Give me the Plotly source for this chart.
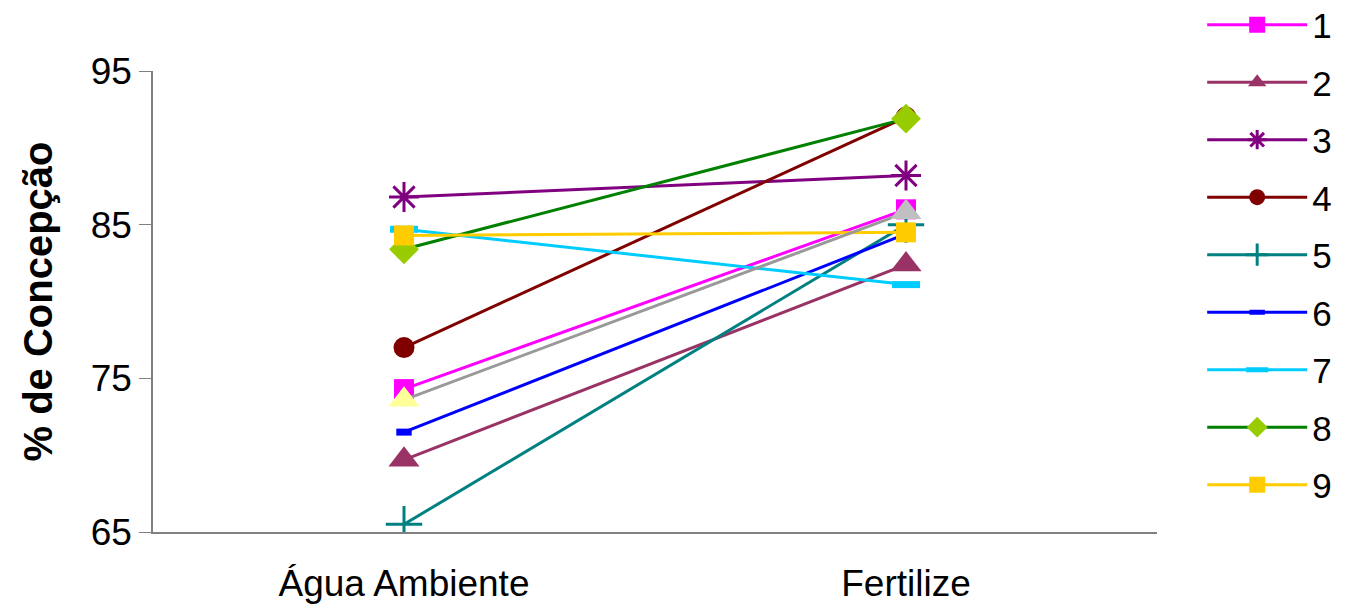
import plotly.graph_objects as go

CATEGORIES = ["Água Ambiente", "Fertilize"]
SERIES_NAMES = ["1", "2", "3", "4", "5", "6", "7", "8", "9", "10"]
VALUES = [
    [74.3, 86.0],
    [69.7, 82.4],
    [86.8, 88.2],
    [77.0, 92.0],
    [65.5, 85.0],
    [71.5, 84.4],
    [84.7, 81.1],
    [83.4, 91.9],
    [84.3, 84.5],
    [73.6, 85.8],
]
Y_TICKS = [65, 75, 85, 95]

LINE_COLORS = ["#FF00FF", "#993366", "#800080", "#800000", "#008080",
               "#0000FF", "#00CCFF", "#008000", "#FFCC00", "#999999"]
MARKER_COLORS = ["#FF00FF", "#993366", "#800080", "#800000", "#008080",
                 "#0000FF", "#00CCFF", "#99CC00", "#FFCC00", ["#FFFF99", "#C0C0C0"]]
SYMBOLS = ["square", "triangle-up", "asterisk", "circle", "cross-thin",
           "line-ew", "line-ew", "diamond", "square", "triangle-up"]
SIZES = [20, 27, 25, 21, 26, 11, 20, 23, 20, 27]

fig = go.Figure()
for i, name in enumerate(SERIES_NAMES):
    sym = SYMBOLS[i]
    if sym in ("asterisk", "cross-thin"):
        marker = dict(symbol=sym, size=SIZES[i], color=MARKER_COLORS[i],
                      line=dict(color=LINE_COLORS[i], width=3))
    elif sym == "line-ew":
        marker = dict(symbol=sym, size=SIZES[i], color=MARKER_COLORS[i],
                      line=dict(color=MARKER_COLORS[i], width=7))
    else:
        marker = dict(symbol=sym, size=SIZES[i], color=MARKER_COLORS[i], line=dict(width=0))
    fig.add_trace(go.Scatter(
        x=CATEGORIES,
        y=VALUES[i],
        name=name,
        mode="lines+markers",
        line=dict(color=LINE_COLORS[i], width=3),
        marker=marker,
        legendgroup=name,
        showlegend=(name != "10"),
    ))

fig.update_layout(
    width=1353,
    height=600,
    margin=dict(l=145, r=204, t=63, b=76, autoexpand=False),
    paper_bgcolor="white",
    plot_bgcolor="white",
    font=dict(family="Liberation Sans, Arial, sans-serif", size=37, color="black"),
    showlegend=True,
    legend=dict(
        x=1.045, xanchor="left",
        y=1.164, yanchor="top",
        font=dict(size=35),
        tracegroupgap=9,
        itemwidth=100,
        maxheight=2000,
        bgcolor="rgba(0,0,0,0)",
    ),
)
fig.update_xaxes(
    type="category",
    range=[-0.5, 1.5],
    showline=True, linecolor="#808080", linewidth=1.5,
    showgrid=False, ticks="", zeroline=False,
    tickfont=dict(size=37),
    ticklabelstandoff=18,
    automargin=False,
)
fig.update_yaxes(
    range=[65, 95],
    tickvals=Y_TICKS,
    showline=True, linecolor="#808080", linewidth=1.5,
    ticks="outside", ticklen=12, tickcolor="#808080",
    showgrid=False, zeroline=False,
    tickfont=dict(size=37),
    automargin=False,
    title=dict(text="% de Concepção", font=dict(size=40, weight="bold"), standoff=26),
)

fig.write_html("out.html")
